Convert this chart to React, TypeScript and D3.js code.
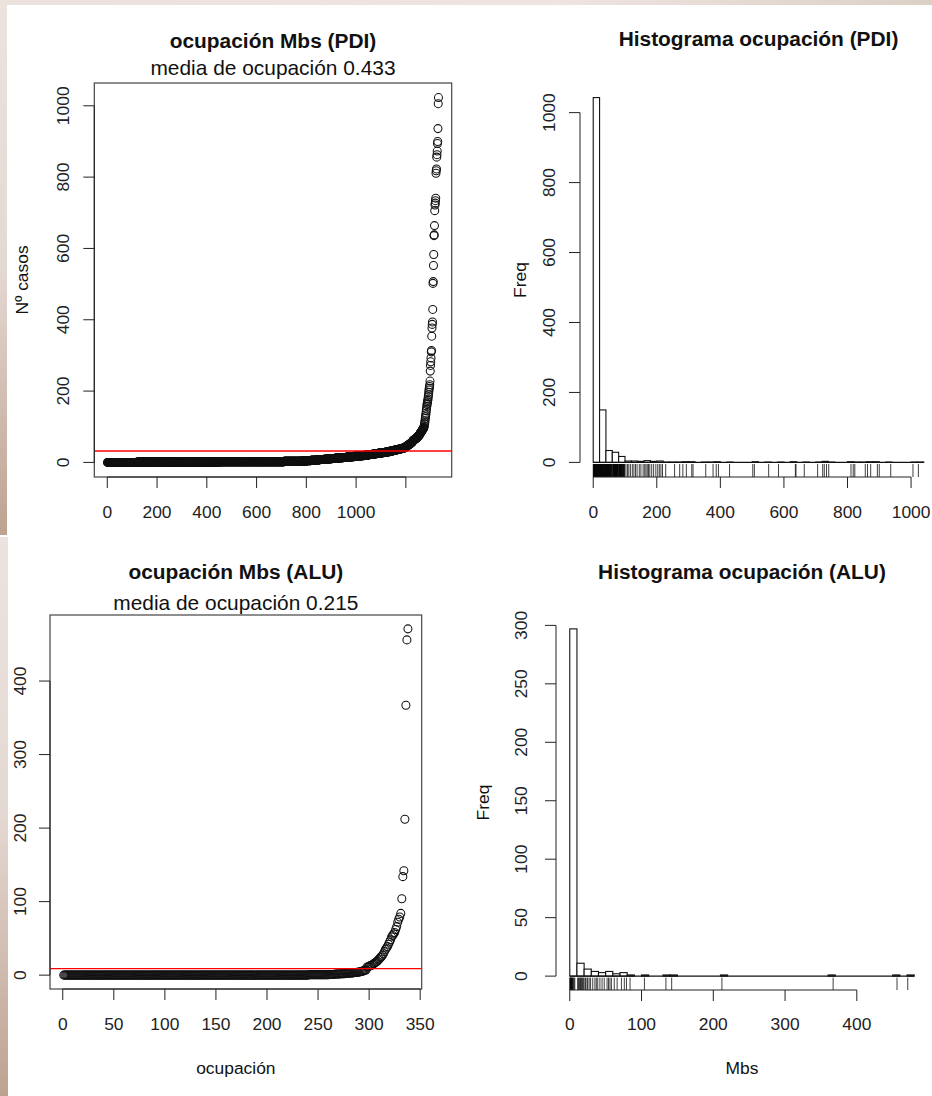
import React from 'react';
import * as d3 from 'd3';

// ---------------- DATA ----------------
// PDI: sorted occupation values, as [value, count] runs for the dense low part
const pdiRuns: [number, number][] = [
  [0, 120], [1, 330], [2, 260], [3, 70], [4, 20], [5, 18], [6, 18], [7, 17], [8, 17],
  [9, 16], [10, 16], [11, 15], [12, 15], [13, 15], [14, 15], [15, 14], [16, 14], [17, 14],
  [18, 14], [19, 13], [20, 12],
  [21, 10], [22, 10], [23, 10], [24, 9], [25, 9], [26, 9], [27, 9], [28, 9], [29, 9],
  [30, 6], [31, 6], [32, 6], [33, 6], [34, 6], [35, 6], [36, 6], [37, 6], [38, 6], [39, 6], [40, 6],
  [41, 2], [42, 2], [43, 2], [44, 2], [45, 2], [46, 2], [47, 2], [48, 2], [49, 2], [50, 2],
  [51, 2], [52, 2], [53, 2], [54, 2], [55, 1], [56, 2], [57, 1], [58, 2],
  [61, 2], [62, 2], [63, 2], [64, 2], [65, 2], [66, 2], [67, 2], [68, 1], [69, 2], [70, 1],
  [71, 2], [72, 1], [73, 1], [74, 2], [75, 1], [76, 1], [77, 1], [78, 1], [79, 1],
];
// PDI: individually visible values
const pdiSingles: number[] = [
  81, 82, 83, 84, 85, 86, 87, 88, 89, 90, 92, 93, 94, 95, 96, 98, 99,
  103, 108, 112, 117, 123, 128, 133, 138, 145, 150, 157, 162, 166, 170, 174, 178,
  184, 190, 197, 203, 208, 213, 218, 228,
  256, 272, 282, 293, 310, 314, 354, 377, 387, 394, 429, 502, 507, 552, 583, 636, 638,
  664, 706, 722, 727, 734, 741, 811, 818, 823, 856, 863, 873, 894, 900, 936, 1006, 1023,
];
const pdiMean = 32;

// ALU
const aluRuns: [number, number][] = [
  [0, 240], [0.5, 20], [1, 6], [1.5, 5], [2, 5], [2.5, 4], [3, 4], [3.5, 3], [4, 3], [5, 3],
  [6, 2], [7, 2], [11, 2], [13, 2],
];
const aluSingles: number[] = [
  12, 14, 15, 16, 17, 18, 19, 21, 22, 24, 25, 27, 29, 32, 35, 37, 39, 42, 45, 48,
  52, 54, 56, 58, 62, 66, 72, 76, 79, 84, 104, 134, 142, 212, 367, 456, 471,
];
const aluMean = 9;

// axis ticks
const pdiIndexTicks = [0, 200, 400, 600, 800, 1000, 1200];
const pdiIndexLabels = ['0', '200', '400', '600', '800', '1000', ''];
const pdiValueTicks = [0, 200, 400, 600, 800, 1000];
const pdiMbsTicks = [0, 200, 400, 600, 800, 1000];
const pdiFreqTicks = [0, 200, 400, 600, 800, 1000];
const aluIndexTicks = [0, 50, 100, 150, 200, 250, 300, 350];
const aluValueTicks = [0, 100, 200, 300, 400];
const aluMbsTicks = [0, 100, 200, 300, 400];
const aluFreqTicks = [0, 50, 100, 150, 200, 250, 300];
const pdiBinWidth = 20;
const aluBinWidth = 10;

// ---------------- helpers ----------------
const expand = (runs: [number, number][], singles: number[]) =>
  runs.flatMap(([v, c]) => Array(c).fill(v) as number[]).concat(singles).sort((a, b) => a - b);

const pdiValues = expand(pdiRuns, pdiSingles);
const aluValues = expand(aluRuns, aluSingles);

function rHist(values: number[], width: number) {
  const top = Math.ceil(d3.max(values)! / width) * width;
  const breaks = d3.range(0, top + width / 2, width);
  return breaks.slice(0, -1).map((a, i) => {
    const b = breaks[i + 1];
    const count = values.filter((v) => (i === 0 ? v >= a : v > a) && v <= b).length;
    return { x0: a, x1: b, count };
  });
}

const padDomain = (lo: number, hi: number): [number, number] => {
  const p = (hi - lo) * 0.04;
  return [lo - p, hi + p];
};

const FONT = '"Liberation Sans", Arial, Helvetica, sans-serif';
const TICK = 17.4;
const TITLE = 20.9;

type Region = { x0: number; x1: number; y0: number; y1: number };

function YAxis({ y, ticks, x, labelX }: { y: d3.ScaleLinear<number, number>; ticks: number[]; x: number; labelX: number }) {
  return (
    <g>
      <line x1={x} x2={x} y1={y(ticks[0])} y2={y(ticks[ticks.length - 1])} stroke="#222" strokeWidth={1} />
      {ticks.map((t) => (
        <g key={t}>
          <line x1={x - 11} x2={x} y1={y(t)} y2={y(t)} stroke="#222" strokeWidth={1} />
          <text
            transform={`translate(${labelX},${y(t)}) rotate(-90)`}
            textAnchor="middle"
            dominantBaseline="central"
            fontSize={TICK}
            fontFamily={FONT}
            fill="#222"
          >
            {t}
          </text>
        </g>
      ))}
    </g>
  );
}

function XAxis({ x, ticks, labels, y, labelY }: { x: d3.ScaleLinear<number, number>; ticks: number[]; labels?: string[]; y: number; labelY: number }) {
  return (
    <g>
      <line x1={x(ticks[0])} x2={x(ticks[ticks.length - 1])} y1={y} y2={y} stroke="#222" strokeWidth={1} />
      {ticks.map((t, i) => (
        <g key={t}>
          <line x1={x(t)} x2={x(t)} y1={y} y2={y + 11} stroke="#222" strokeWidth={1} />
          <text x={x(t)} y={labelY} textAnchor="middle" fontSize={TICK} fontFamily={FONT} fill="#222">
            {labels ? labels[i] : t}
          </text>
        </g>
      ))}
    </g>
  );
}

function Scatter(props: {
  values: number[];
  r: Region;
  xTicks: number[];
  xLabels?: string[];
  yTicks: number[];
  mean: number;
  title: string;
  sub: string;
  titleY: number;
  subY: number;
  ylab?: string;
  ylabX?: number;
  xlab?: string;
  xlabY?: number;
  tickLabelY: number;
  yLabelX: number;
}) {
  const { values, r } = props;
  const n = values.length;
  const x = d3.scaleLinear().domain(padDomain(1, n)).range([r.x0, r.x1]);
  const y = d3.scaleLinear().domain(padDomain(0, d3.max(values)!)).range([r.y1, r.y0]);
  const cx = (r.x0 + r.x1) / 2;
  return (
    <g>
      <rect x={r.x0} y={r.y0} width={r.x1 - r.x0} height={r.y1 - r.y0} fill="none" stroke="#444" strokeWidth={1.2} />
      {values.map((v, i) => (
        <circle key={i} cx={x(i + 1)} cy={y(v)} r={4} fill="none" stroke="#111" strokeWidth={1.05} />
      ))}
      <line x1={r.x0} x2={r.x1} y1={y(props.mean)} y2={y(props.mean)} stroke="#ff0000" strokeWidth={1.3} />
      <YAxis y={y} ticks={props.yTicks} x={r.x0} labelX={props.yLabelX} />
      <XAxis x={x} ticks={props.xTicks} labels={props.xLabels} y={r.y1} labelY={props.tickLabelY} />
      <text x={cx} y={props.titleY} textAnchor="middle" fontSize={TITLE} fontWeight="bold" fontFamily={FONT} fill="#111">
        {props.title}
      </text>
      <text x={cx} y={props.subY} textAnchor="middle" fontSize={TITLE} fontFamily={FONT} fill="#111">
        {props.sub}
      </text>
      {props.ylab && (
        <text
          transform={`translate(${props.ylabX},${(r.y0 + r.y1) / 2}) rotate(-90)`}
          textAnchor="middle"
          dominantBaseline="central"
          fontSize={TICK}
          fontFamily={FONT}
          fill="#111"
        >
          {props.ylab}
        </text>
      )}
      {props.xlab && (
        <text x={cx} y={props.xlabY} textAnchor="middle" fontSize={TICK} fontFamily={FONT} fill="#111">
          {props.xlab}
        </text>
      )}
    </g>
  );
}

function Hist(props: {
  values: number[];
  binWidth: number;
  r: Region;
  xTicks: number[];
  yTicks: number[];
  title: string;
  titleY: number;
  ylabX: number;
  xlab?: string;
  xlabY?: number;
  tickLabelY: number;
  yLabelX: number;
}) {
  const { values, r } = props;
  const bins = rHist(values, props.binWidth);
  const x = d3.scaleLinear().domain(padDomain(0, bins[bins.length - 1].x1)).range([r.x0, r.x1]);
  const y = d3.scaleLinear().domain(padDomain(0, d3.max(bins, (b) => b.count)!)).range([r.y1, r.y0]);
  const cx = (r.x0 + r.x1) / 2;
  const rugLen = (r.y1 - r.y0) * 0.033;
  return (
    <g>
      {bins.map((b, i) =>
        b.count > 0 ? (
          <rect
            key={i}
            x={x(b.x0)}
            y={y(b.count)}
            width={x(b.x1) - x(b.x0)}
            height={y(0) - y(b.count)}
            fill="#fff"
            stroke="#111"
            strokeWidth={1.1}
          />
        ) : null
      )}
      <line
        x1={x(bins[0].x0)}
        x2={x(bins[bins.length - 1].x1)}
        y1={y(0)}
        y2={y(0)}
        stroke="#111"
        strokeWidth={1.3}
      />
      {Array.from(new Set(values)).map((v, i) => (
        <line key={i} x1={x(v)} x2={x(v)} y1={r.y1} y2={r.y1 - rugLen} stroke="#000" strokeOpacity={0.75} strokeWidth={1} />
      ))}
      <YAxis y={y} ticks={props.yTicks} x={r.x0} labelX={props.yLabelX} />
      <XAxis x={x} ticks={props.xTicks} y={r.y1} labelY={props.tickLabelY} />
      <text x={cx} y={props.titleY} textAnchor="middle" fontSize={TITLE} fontWeight="bold" fontFamily={FONT} fill="#111">
        {props.title}
      </text>
      <text
        transform={`translate(${props.ylabX},${(r.y0 + r.y1) / 2}) rotate(-90)`}
        textAnchor="middle"
        dominantBaseline="central"
        fontSize={TICK}
        fontFamily={FONT}
        fill="#111"
      >
        Freq
      </text>
      {props.xlab && (
        <text x={cx} y={props.xlabY} textAnchor="middle" fontSize={TICK} fontFamily={FONT} fill="#111">
          {props.xlab}
        </text>
      )}
    </g>
  );
}

export default function App() {
  const W = 932;
  const H = 1096;
  return (
    <svg
      width={W}
      height={H}
      viewBox={`0 0 ${W} ${H}`}
      style={{ position: 'absolute', left: 0, top: 0, display: 'block' }}
    >
      <defs>
        <linearGradient id="leftStrip" x1="0" y1="0" x2="0" y2="1">
          <stop offset="0" stopColor="#ece3df" />
          <stop offset="0.5" stopColor="#e4d8d2" />
          <stop offset="1" stopColor="#bea291" />
        </linearGradient>
        <linearGradient id="topStrip" x1="0" y1="0" x2="1" y2="0">
          <stop offset="0" stopColor="#ebe2de" />
          <stop offset="0.6" stopColor="#eee4e0" />
          <stop offset="1" stopColor="#dcd0c6" />
        </linearGradient>
      </defs>
      <rect x={0} y={0} width={W} height={H} fill="#fff" />
      <rect x={0} y={0} width={W} height={5} fill="url(#topStrip)" />
      <rect x={0} y={0} width={7} height={535} fill="url(#leftStrip)" />
      <rect x={0} y={537} width={8} height={H - 537} fill="url(#leftStrip)" />

      <Scatter
        values={pdiValues}
        r={{ x0: 94.3, x1: 451.7, y0: 83, y1: 477 }}
        xTicks={pdiIndexTicks}
        xLabels={pdiIndexLabels}
        yTicks={pdiValueTicks}
        mean={pdiMean}
        title="ocupación Mbs (PDI)"
        sub="media de ocupación 0.433"
        titleY={47.5}
        subY={74.5}
        ylab="Nº casos"
        ylabX={22}
        tickLabelY={518}
        yLabelX={63}
      />
      <Hist
        values={pdiValues}
        binWidth={pdiBinWidth}
        r={{ x0: 580, x1: 937, y0: 83, y1: 477 }}
        xTicks={pdiMbsTicks}
        yTicks={pdiFreqTicks}
        title="Histograma ocupación (PDI)"
        titleY={46}
        ylabX={520}
        tickLabelY={518}
        yLabelX={549}
      />
      <Scatter
        values={aluValues}
        r={{ x0: 50, x1: 421.7, y0: 615, y1: 989 }}
        xTicks={aluIndexTicks}
        yTicks={aluValueTicks}
        mean={aluMean}
        title="ocupación Mbs (ALU)"
        sub="media de ocupación 0.215"
        titleY={579}
        subY={610}
        xlab="ocupación"
        xlabY={1074}
        tickLabelY={1030}
        yLabelX={20}
      />
      <Hist
        values={aluValues}
        binWidth={aluBinWidth}
        r={{ x0: 556, x1: 928, y0: 615, y1: 990 }}
        xTicks={aluMbsTicks}
        yTicks={aluFreqTicks}
        title="Histograma ocupación (ALU)"
        titleY={579}
        ylabX={483}
        xlab="Mbs"
        xlabY={1074}
        tickLabelY={1030}
        yLabelX={521}
      />
    </svg>
  );
}
